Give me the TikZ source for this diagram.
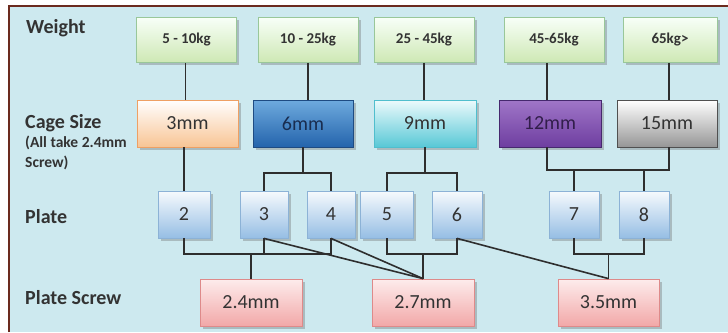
\documentclass[tikz,border=0pt]{standalone}
\usepackage{fontspec}
\setmainfont{Carlito}
\usetikzlibrary{shadows}
\definecolor{bgblue}{HTML}{CDE9EF}
\definecolor{frame}{HTML}{6B2A1E}
\definecolor{ink}{HTML}{333333}
\definecolor{lineclr}{HTML}{2E2E2E}
\tikzset{
  box/.style={draw, line width=0.8pt, inner sep=0pt, align=center, text=ink,
    drop shadow={shadow xshift=2.5pt, shadow yshift=-2.5pt, opacity=0.35, fill=black!60}},
  wbox/.style={box, minimum width=100pt, minimum height=45pt, draw=green!45!black!40,
    top color=green!3, bottom color={rgb,255:red,206;green,232;blue,180},
    font=\fontsize{15}{17}\selectfont\bfseries},
  cbox/.style={box, minimum height=47pt, font=\fontsize{20}{22}\selectfont},
  pbox/.style={box, minimum height=47pt, draw={rgb,255:red,140;green,178;blue,214},
    top color={rgb,255:red,246;green,250;blue,253}, bottom color={rgb,255:red,150;green,190;blue,228},
    font=\fontsize{20}{22}\selectfont},
  sbox/.style={box, minimum width=102pt, minimum height=47pt, draw={rgb,255:red,222;green,138;blue,138},
    top color={rgb,255:red,253;green,236;blue,236}, bottom color={rgb,255:red,242;green,168;blue,168},
    font=\fontsize{20}{22}\selectfont},
  rowlabel/.style={anchor=west, inner sep=0pt, text=ink, font=\fontsize{20}{22}\selectfont\bfseries},
  smalllabel/.style={anchor=west, inner sep=0pt, text=ink, font=\fontsize{15.5}{17}\selectfont\bfseries},
  conn/.style={draw=lineclr, line width=1.6pt}
}
\begin{document}
\begin{tikzpicture}[x=1pt,y=-1pt]
\useasboundingbox (0,0) rectangle (728,332);
\fill[white] (0,0) rectangle (728,332);
\fill[bgblue] (9,6) rectangle (728,332);
\draw[frame, line width=2.4pt] (9,332) -- (9,6) -- (728,6);

% row labels
\node[rowlabel] (lw) at (26,28) {Weight};
\node[rowlabel] (lc) at (25,123) {Cage Size};
\node[smalllabel] (ls1) at (25,143) {(All take 2.4mm};
\node[smalllabel] (ls2) at (25,163) {Screw)};
\node[rowlabel] (lp) at (25,217) {Plate};
\node[rowlabel] (lps) at (25,298) {Plate Screw};

% weight boxes
\node[wbox] (w1) at (186.5,40) {5 - 10kg};
\node[wbox] (w2) at (308,40) {10 - 25kg};
\node[wbox] (w3) at (424,40) {25 - 45kg};
\node[wbox] (w4) at (554,40) {45-65kg};
\node[wbox, minimum width=94pt] (w5) at (670,40) {65kg>};

% cage boxes
\node[cbox, minimum width=101pt, draw={rgb,255:red,238;green,160;blue,100},
  top color=white, bottom color={rgb,255:red,248;green,196;blue,148}] (c1) at (187.5,123.5) {3mm};
\node[cbox, minimum width=100pt, draw={rgb,255:red,30;green,75;blue,130},
  top color={rgb,255:red,110;green,170;blue,222}, bottom color={rgb,255:red,36;green,100;blue,172},
  text={rgb,255:red,25;green,45;blue,80}] (c2) at (303,123.5) {6mm};
\node[cbox, minimum width=102pt, draw={rgb,255:red,80;green,190;blue,205},
  top color={rgb,255:red,236;green,250;blue,252}, bottom color={rgb,255:red,88;green,200;blue,214}] (c3) at (425,123.5) {9mm};
\node[cbox, minimum width=102pt, draw={rgb,255:red,70;green,40;blue,110},
  top color={rgb,255:red,160;green,118;blue,200}, bottom color={rgb,255:red,110;green,62;blue,160},
  text={rgb,255:red,50;green,30;blue,75}] (c4) at (550,123.5) {12mm};
\node[cbox, minimum width=100pt, draw={rgb,255:red,80;green,80;blue,80},
  top color=white, bottom color={rgb,255:red,150;green,150;blue,150}] (c5) at (667,123.5) {15mm};

% plates
\node[pbox, minimum width=52pt] (p2) at (184,214.5) {2};
\node[pbox, minimum width=48pt] (p3) at (264,214.5) {3};
\node[pbox, minimum width=48pt] (p4) at (331,214.5) {4};
\node[pbox, minimum width=53pt] (p5) at (387,214.5) {5};
\node[pbox, minimum width=50pt] (p6) at (457,214.5) {6};
\node[pbox, minimum width=50pt] (p7) at (574,214.5) {7};
\node[pbox, minimum width=50pt] (p8) at (644,214.5) {8};

% screws
\node[sbox] (s1) at (251,302.5) {2.4mm};
\node[sbox] (s2) at (423,302.5) {2.7mm};
\node[sbox, minimum width=101pt] (s3) at (608.5,302.5) {3.5mm};

% junction coordinates
\coordinate (j1) at (185.5,0);
\coordinate (j2) at (303,173);
\coordinate (j3) at (425,173);
\coordinate (j4) at (547,170);
\coordinate (j5) at (669,170);
\coordinate (k1) at (251,254);
\coordinate (k2) at (423,254);
\coordinate (k3) at (608.5,254);

% weight -> cage
\draw[conn] (w1.south -| j1) -- (j1 |- c1.north);
\draw[conn] (w2.south) -- (w2.south |- c2.north);
\draw[conn] (w3.south) -- (w3.south |- c3.north);
\draw[conn] (w4.south -| j4) -- (j4 |- c4.north);
\draw[conn] (w5.south -| j5) -- (j5 |- c5.north);
% cage -> plate
\draw[conn] (c1.south -| p2.north) -- (p2.north);
\draw[conn] (c2.south -| j2) -- (j2);
\draw[conn] (p3.north) |- (j2) -| (p4.north);
\draw[conn] (c3.south -| j3) -- (j3);
\draw[conn] (p5.north) |- (j3) -| (p6.north);
\draw[conn] (c4.south -| j4) -- (j4) -- (j5) -- (c5.south -| j5);
\draw[conn] (p7.north) -- (p7.north |- j4);
\draw[conn] (p8.north) -- (p8.north |- j4);
% plate -> screw
\draw[conn] (p2.south) |- (k1) -| (p4.south);
\draw[conn] (p3.south) -- (p3.south |- k1);
\draw[conn] (k1) -- (s1.north);
\draw[conn] (p5.south) |- (k2) -| (p6.south);
\draw[conn] (k2) -- (s2.north);
\draw[conn] (p7.south) |- (k3) -| (p8.south);
\draw[conn] (k3) -- (s3.north);
\draw[conn] (p3.south) -- (s2.north);
\draw[conn] (p4.south) -- (s2.north);
\draw[conn] (p6.south) -- (s3.north);
\end{tikzpicture}
\end{document}
